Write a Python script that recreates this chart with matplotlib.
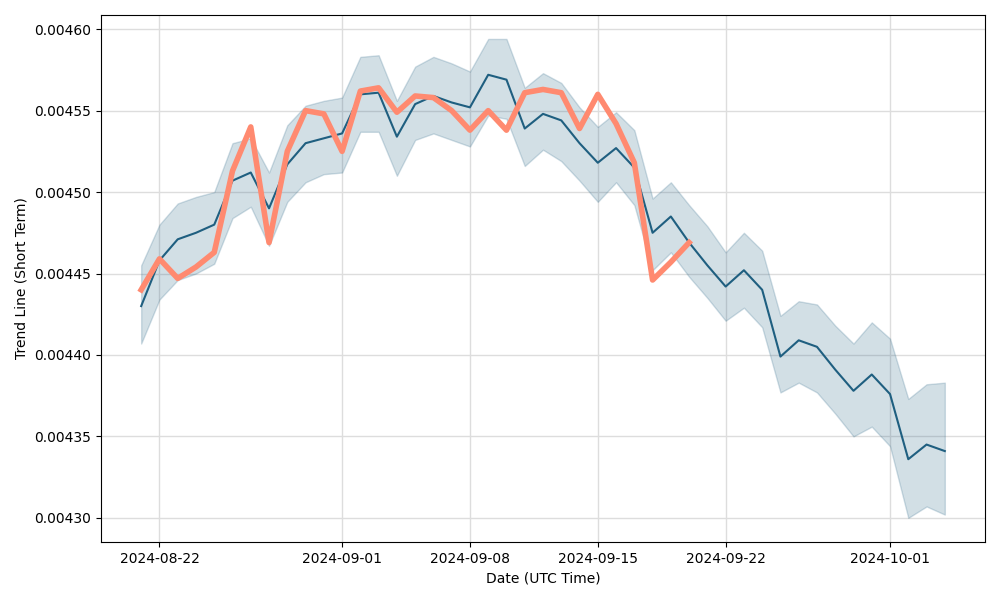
import pandas as pd
import matplotlib
matplotlib.use('Agg')
import matplotlib.pyplot as plt
import matplotlib.dates as mdates
from matplotlib.ticker import FormatStrFormatter

# Daily trend line with confidence band
dates = pd.date_range('2024-08-21', '2024-10-04', freq='D')

trend = [0.004430, 0.004458, 0.004471, 0.004475, 0.004480, 0.004507, 0.004512, 0.004490,
         0.004517, 0.004530, 0.004533, 0.004536, 0.004560, 0.004561, 0.004534, 0.004554,
         0.004559, 0.004555, 0.004552, 0.004572, 0.004569, 0.004539, 0.004548, 0.004544,
         0.004530, 0.004518, 0.004527, 0.004515, 0.004475, 0.004485, 0.004469, 0.004455,
         0.004442, 0.004452, 0.004440, 0.004399, 0.004409, 0.004405, 0.004391, 0.004378,
         0.004388, 0.004376, 0.004336, 0.004345, 0.004341]

upper = [0.004455, 0.004480, 0.004493, 0.004497, 0.004500, 0.004530, 0.004533, 0.004512,
         0.004541, 0.004553, 0.004556, 0.004558, 0.004583, 0.004584, 0.004556, 0.004577,
         0.004583, 0.004579, 0.004574, 0.004594, 0.004594, 0.004564, 0.004573, 0.004567,
         0.004552, 0.004540, 0.004549, 0.004538, 0.004496, 0.004506, 0.004492, 0.004479,
         0.004463, 0.004475, 0.004464, 0.004424, 0.004433, 0.004431, 0.004418, 0.004407,
         0.004420, 0.004410, 0.004373, 0.004382, 0.004383]

lower = [0.004407, 0.004434, 0.004446, 0.004450, 0.004456, 0.004484, 0.004491, 0.004467,
         0.004494, 0.004506, 0.004511, 0.004512, 0.004537, 0.004537, 0.004510, 0.004532,
         0.004536, 0.004532, 0.004528, 0.004547, 0.004545, 0.004516, 0.004526, 0.004519,
         0.004507, 0.004494, 0.004506, 0.004492, 0.004452, 0.004463, 0.004448, 0.004435,
         0.004421, 0.004429, 0.004417, 0.004377, 0.004383, 0.004377, 0.004364, 0.004350,
         0.004356, 0.004344, 0.004300, 0.004307, 0.004302]

# Actual values (only up to 2024-09-20)
actual_dates = pd.date_range('2024-08-21', '2024-09-20', freq='D')
actual = [0.004440, 0.004459, 0.004447, 0.004454, 0.004463, 0.004513, 0.004540, 0.004469,
          0.004525, 0.004550, 0.004548, 0.004525, 0.004562, 0.004564, 0.004549, 0.004559,
          0.004558, 0.004550, 0.004538, 0.004550, 0.004538, 0.004561, 0.004563, 0.004561,
          0.004539, 0.004560, 0.004542, 0.004518, 0.004446, 0.004457, 0.004469]

blue = '#1f5f80'

fig, ax = plt.subplots(figsize=(10, 6), dpi=100)
ax.fill_between(dates, lower, upper, color=blue, alpha=0.2)
ax.plot(dates, trend, color=blue, linewidth=1.5)
ax.plot(actual_dates, actual, color='#ff8a70', linewidth=4)

ax.xaxis.set_major_locator(mdates.DayLocator(bymonthday=[1, 8, 15, 22]))
ax.xaxis.set_major_formatter(mdates.DateFormatter('%Y-%m-%d'))
ax.yaxis.set_major_formatter(FormatStrFormatter('%.5f'))
ax.set_xlabel('Date (UTC Time)')
ax.set_ylabel('Trend Line (Short Term)')
ax.grid(True, color='#dddddd', linewidth=1)
ax.set_axisbelow(True)

fig.subplots_adjust(left=0.101, right=0.985, top=0.975, bottom=0.097)
fig.savefig('out.png')
